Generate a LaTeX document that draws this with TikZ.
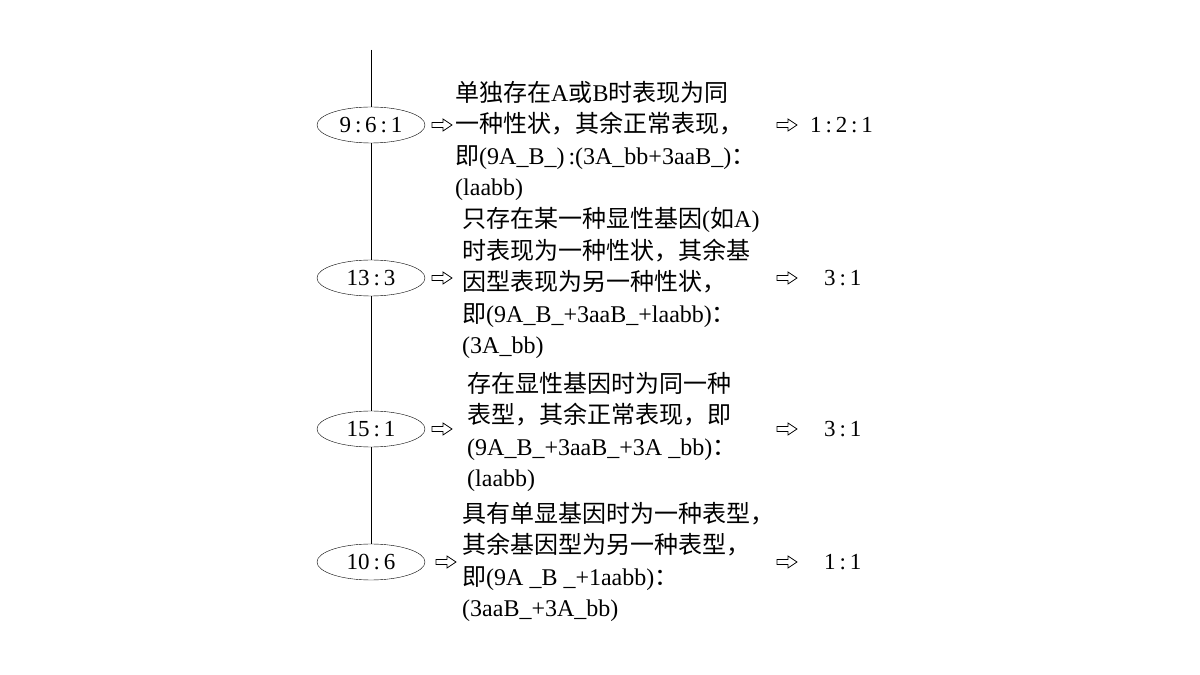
\documentclass[tikz,border=0pt]{standalone}
\usepackage{fontspec}
\setmainfont{Liberation Serif}
\newfontfamily\cjk{Noto Sans CJK SC}
\usetikzlibrary{shapes.geometric}
\newcommand\harr[1]{\draw[line width=0.8,shift={(#1)}] (-10,-2.5) -- (1,-2.5) -- (1,-6) -- (10,0) -- (1,6) -- (1,2.5) -- (-10,2.5) -- cycle;}
\begin{document}
\begin{tikzpicture}[x=1pt,y=1pt,
  ell/.style={draw,ellipse,minimum width=108,minimum height=36,fill=white,font=\fontsize{23}{26}\selectfont,inner sep=0},
  txt/.style={align=left,anchor=west,inner sep=0,font=\fontsize{24}{31.5}\selectfont},
  res/.style={anchor=west,inner sep=0,font=\fontsize{23}{26}\selectfont}]
\useasboundingbox (0,0) rectangle (1200,675);
\coordinate (top) at (371,625);
\coordinate (bot) at (371,540);
\draw[line width=0.8] (top) -- (bot);
\node[ell] (e1) at (371,550) {9\,:\,6\,:\,1};
\node[ell] (e2) at (371,397) {13\,:\,3};
\node[ell] (e3) at (371,246) {15\,:\,1};
\node[ell] (e4) at (371,113) {10\,:\,6};
\draw[line width=0.8] (top) -- (e1) -- (e2) -- (e3) -- (e4);
\coordinate (a1) at (442,550); \harr{a1}
\coordinate (a2) at (442,397); \harr{a2}
\coordinate (a3) at (442,246); \harr{a3}
\coordinate (a4) at (446,113); \harr{a4}
\node[txt] (t1) at (455,534) {{\cjk 单独存在}A{\cjk 或}B{\cjk 时表现为同}\\{\cjk 一种性状，其余正常表现，}\\{\cjk 即}(9A\_B\_)\,:(3A\_bb+3aaB\_){\cjk ：}\\(laabb)};
\node[txt] (t2) at (462,392) {{\cjk 只存在某一种显性基因}({\cjk 如}A)\\{\cjk 时表现为一种性状，其余基}\\{\cjk 因型表现为另一种性状，}\\{\cjk 即}(9A\_B\_+3aaB\_+laabb){\cjk ：}\\(3A\_bb)};
\node[txt] (t3) at (467,243) {{\cjk 存在显性基因时为同一种}\\{\cjk 表型，其余正常表现，即}\\(9A\_B\_+3aaB\_+3A \_bb){\cjk ：}\\(laabb)};
\node[txt] (t4) at (462,113) {{\cjk 具有单显基因时为一种表型，}\\{\cjk 其余基因型为另一种表型，}\\{\cjk 即}(9A \_B \_+1aabb){\cjk ：}\\(3aaB\_+3A\_bb)};
\coordinate (b1) at (787,550); \harr{b1}
\coordinate (b2) at (787,397); \harr{b2}
\coordinate (b3) at (787,246); \harr{b3}
\coordinate (b4) at (787,113); \harr{b4}
\node[res] (r1) at (810,550) {1\,:\,2\,:\,1};
\node[res] (r2) at (824,397) {3\,:\,1};
\node[res] (r3) at (824,246) {3\,:\,1};
\node[res] (r4) at (824,113) {1\,:\,1};
\end{tikzpicture}
\end{document}
